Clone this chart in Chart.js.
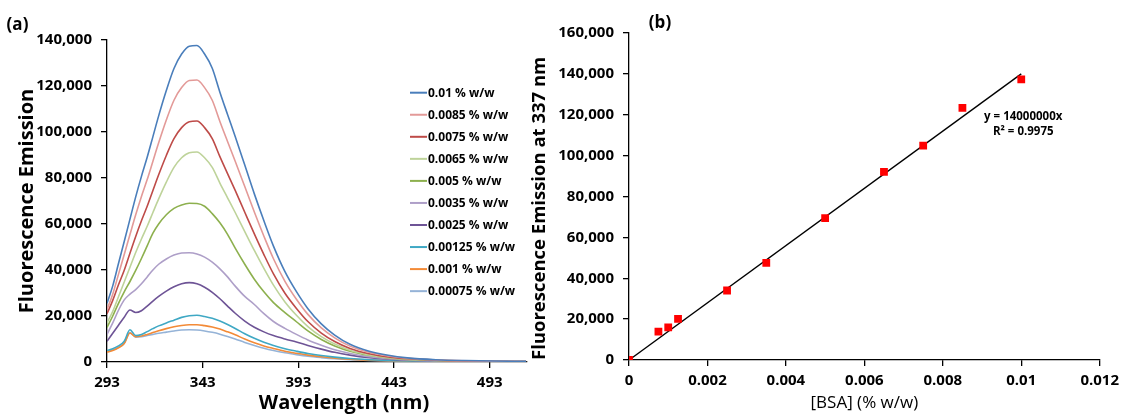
<!DOCTYPE html>
<html>
<head>
<meta charset="utf-8">
<script src="https://cdn.jsdelivr.net/npm/chart.js@4.4.1/dist/chart.umd.min.js"></script>
<style>
  body { margin: 0; background: #fff; }
  #wrap { position: relative; width: 1125px; height: 417px; }
  .box { position: absolute; top: 0; height: 417px; }
  #left { left: 0; width: 540px; }
  #right { left: 520px; width: 605px; }
</style>
</head>
<body>
<div id="wrap">
  <div class="box" id="left"><canvas id="spectra"></canvas></div>
  <div class="box" id="right"><canvas id="calib"></canvas></div>
</div>
<script>
// (a) emission spectra, wavelength in nm
const wavelengths = [293, 296, 299, 302, 305, 308, 311, 314, 317, 320, 324, 328, 332, 336, 340, 344, 348, 352, 356, 360,
  365, 370, 375, 380, 386, 392, 398, 405, 412, 420, 430, 440, 450, 465, 480, 495, 512];
const wlTicks = [293, 343, 393, 443, 493];

const em0100 = [25500, 33100, 42800, 52400, 62100, 71800, 80700, 89000, 98000, 107000, 118000, 127600, 133900, 137300, 137600, 133900, 127700, 117300, 107600, 98000,
  85600, 73100, 61400, 50400, 39300, 30600, 23200, 16600, 11700, 7700, 4700, 2900, 1800, 1000, 620, 410, 280];
const em0085 = [22800, 29500, 38100, 46700, 55400, 64000, 72000, 79300, 87300, 95300, 105200, 113800, 119300, 122400, 122600, 119300, 113800, 104600, 95900, 87300,
  76300, 65200, 54700, 44900, 35100, 27300, 20700, 14800, 10500, 6900, 4200, 2600, 1600, 920, 550, 370, 250];
const em0075 = [21000, 26800, 33600, 39900, 47300, 54600, 61400, 67700, 74600, 81400, 89800, 97100, 101900, 104500, 104800, 101900, 97100, 89300, 81900, 74600,
  65100, 55700, 46700, 38300, 29900, 23300, 17600, 12600, 8900, 5900, 3600, 2200, 1400, 790, 470, 320, 210];
const em0065 = [17000, 22000, 28400, 34800, 41200, 47600, 53500, 59000, 65000, 70900, 78200, 84600, 88800, 91000, 91300, 88800, 84600, 77800, 71400, 65000,
  56700, 48500, 40700, 33400, 26100, 20300, 15400, 11000, 7800, 5100, 3100, 1900, 1200, 690, 410, 270, 180];
const em0050 = [15000, 20000, 25500, 30500, 35000, 39800, 45000, 50500, 56000, 60000, 64000, 66800, 68300, 69000, 68900, 67700, 64500, 60500, 55500, 49500,
  42500, 36000, 30500, 25800, 21500, 17500, 13500, 9800, 7000, 4700, 2900, 1800, 1150, 650, 400, 270, 190];
const em0035 = [12000, 17000, 22500, 27000, 29500, 31500, 34000, 37000, 40000, 42500, 44800, 46500, 47400, 47500, 47000, 45600, 43400, 40500, 37000, 33000,
  28500, 25000, 21000, 17600, 14600, 12000, 9600, 7300, 5300, 3700, 2300, 1400, 900, 520, 320, 230, 160];
const em0025 = [9000, 12500, 16000, 19500, 22600, 21500, 22300, 24300, 26500, 28500, 30800, 32700, 34000, 34500, 34000, 32500, 30300, 27500, 24300, 21200,
  17800, 15100, 13100, 11500, 10000, 8700, 7200, 5600, 4200, 3000, 1900, 1200, 800, 480, 300, 220, 160];
const em00125 = [5000, 5800, 7000, 9000, 14000, 11500, 12000, 13200, 14500, 15700, 17000, 18200, 19400, 20100, 20300, 19800, 19000, 17800, 16300, 14600,
  12300, 10300, 8600, 7200, 5800, 4700, 3700, 2800, 2100, 1500, 1000, 650, 450, 300, 200, 150, 120];
const em0010 = [4300, 5000, 6200, 8000, 12600, 11000, 11300, 12000, 12800, 13600, 14500, 15300, 15900, 16200, 16200, 15800, 15200, 14300, 13100, 11800,
  10000, 8400, 7000, 5900, 4700, 3800, 3000, 2300, 1700, 1200, 800, 520, 360, 240, 160, 120, 90];
const em00075 = [4500, 5200, 6400, 8200, 12800, 10800, 11000, 11500, 12000, 12500, 13000, 13500, 13900, 14000, 13900, 13500, 12900, 12100, 11100, 10000,
  8500, 7200, 6000, 5000, 4000, 3200, 2500, 1900, 1400, 1000, 680, 450, 320, 220, 150, 110, 80];

const seriesLabels = ['0.01 % w/w', '0.0085 % w/w', '0.0075 % w/w', '0.0065 % w/w', '0.005 % w/w',
  '0.0035 % w/w', '0.0025 % w/w', '0.00125 % w/w', '0.001 % w/w', '0.00075 % w/w'];
const seriesValues = [em0100, em0085, em0075, em0065, em0050, em0035, em0025, em00125, em0010, em00075];
const lineColors = ['#4A7EBB', '#E39A98', '#BE4B48', '#BED39A', '#8DB04E', '#AE9FC8', '#6E5496', '#3FA8C4', '#F38A36', '#95B3D7'];

// (b) emission at 337 nm vs BSA concentration
const bsaConc = [0, 0.00075, 0.001, 0.00125, 0.0025, 0.0035, 0.005, 0.0065, 0.0075, 0.0085, 0.01];
const emission337 = [0, 13900, 16000, 20100, 34000, 47500, 69400, 92000, 104900, 123400, 137300];
const fitX = [0, 0.01];
const fitY = [0, 140000];
const bsaTicks = [0, 0.002, 0.004, 0.006, 0.008, 0.01, 0.012];

Chart.defaults.font.family = "'Open Sans', sans-serif";
Chart.defaults.color = '#000';

// free text drawn on top of a chart (panel letters, equation ...)
function notesPlugin(items) {
  return {
    id: 'notes',
    afterDraw(chart) {
      const ctx = chart.ctx;
      ctx.save();
      items.forEach(function (it) {
        let x = it.x, y = it.y;
        if (it.dataX !== undefined) {
          x = chart.scales.x.getPixelForValue(it.dataX);
          y = chart.scales.y.getPixelForValue(it.dataY);
        }
        ctx.font = it.font;
        ctx.fillStyle = '#000';
        ctx.textAlign = it.align || 'center';
        ctx.textBaseline = 'middle';
        ctx.fillText(it.text, x, y);
      });
      ctx.restore();
    }
  };
}

// legend list inside the plot, like the excel one
const insideLegend = {
  id: 'insideLegend',
  afterDraw(chart) {
    const ctx = chart.ctx;
    ctx.save();
    ctx.font = "bold 12px 'Open Sans', sans-serif";
    ctx.textBaseline = 'middle';
    ctx.textAlign = 'left';
    chart.data.datasets.forEach(function (ds, i) {
      const y = 92.7 + i * 22.05;
      ctx.strokeStyle = ds.borderColor;
      ctx.lineWidth = 2;
      ctx.beginPath();
      ctx.moveTo(410, y);
      ctx.lineTo(427, y);
      ctx.stroke();
      ctx.fillStyle = '#000';
      ctx.fillText(ds.label, 428, y + 0.5);
    });
    ctx.restore();
  }
};

const axisGrid = { drawOnChartArea: false, tickLength: 6, color: '#000', lineWidth: 1.3 };
const axisBorder = { color: '#000', width: 1.3 };
const tickFont = { size: 15, weight: 'bold' };

new Chart(document.getElementById('spectra'), {
  type: 'line',
  data: {
    datasets: seriesLabels.map(function (lab, i) {
      return {
        label: lab,
        data: wavelengths.map(function (w, j) { return { x: w, y: seriesValues[i][j] }; }),
        borderColor: lineColors[i],
        borderWidth: 1.6,
        pointRadius: 0,
        cubicInterpolationMode: 'monotone',
        fill: false
      };
    })
  },
  options: {
    responsive: true,
    maintainAspectRatio: false,
    animation: false,
    layout: { padding: { left: 0, right: 13, top: 40, bottom: 0 } },
    plugins: { legend: { display: false }, tooltip: { enabled: false } },
    scales: {
      x: {
        type: 'linear', min: 293, max: 512.5,
        afterBuildTicks: function (s) { s.ticks = wlTicks.map(function (v) { return { value: v }; }); },
        afterFit: function (s) { s.height = 55; },
        grid: axisGrid, border: axisBorder,
        ticks: { font: tickFont, padding: 6, maxRotation: 0, autoSkip: false }
      },
      y: {
        min: 0, max: 140000,
        afterFit: function (s) { s.width = 107; },
        grid: axisGrid, border: axisBorder,
        ticks: { stepSize: 20000, font: tickFont, padding: 9 },
        title: { display: true, text: 'Fluorescence Emission', font: { size: 20, weight: 'bold' }, padding: { top: 15, bottom: 0 } }
      }
    }
  },
  plugins: [insideLegend, notesPlugin([
    { text: '(a)', x: 17.5, y: 25, font: "bold 17px 'Open Sans', sans-serif" },
    { text: 'Wavelength (nm)', x: 344, y: 403, font: "bold 20px 'Open Sans', sans-serif" }
  ])]
});

new Chart(document.getElementById('calib'), {
  type: 'scatter',
  data: {
    datasets: [
      {
        type: 'line',
        label: 'fit',
        data: fitX.map(function (x, i) { return { x: x, y: fitY[i] }; }),
        borderColor: '#000',
        borderWidth: 1.4,
        pointRadius: 0,
        fill: false,
        order: 2
      },
      {
        label: 'Emission at 337 nm',
        data: bsaConc.map(function (c, i) { return { x: c, y: emission337[i] }; }),
        pointStyle: 'rect',
        pointRadius: 5.5,
        backgroundColor: '#FF0000',
        borderWidth: 0,
        order: 1
      }
    ]
  },
  options: {
    responsive: true,
    maintainAspectRatio: false,
    animation: false,
    layout: { padding: { left: 0, right: 21, top: 33, bottom: 0 } },
    plugins: { legend: { display: false }, tooltip: { enabled: false } },
    scales: {
      x: {
        type: 'linear', min: 0, max: 0.012,
        afterBuildTicks: function (s) { s.ticks = bsaTicks.map(function (v) { return { value: v }; }); },
        afterFit: function (s) { s.height = 57; },
        grid: axisGrid, border: axisBorder,
        ticks: {
          font: tickFont, padding: 6, maxRotation: 0, autoSkip: false,
          callback: function (v) { return String(+v.toFixed(3)); }
        },
        title: { display: true, text: '[BSA] (% w/w)', font: { size: 17 }, padding: { top: 0, bottom: 4 } }
      },
      y: {
        min: 0, max: 160000,
        afterFit: function (s) { s.width = 109; },
        grid: axisGrid, border: axisBorder,
        ticks: { stepSize: 20000, font: tickFont, padding: 9 },
        title: {
          display: true, text: 'Fluorescence Emission at 337 nm', align: 'start',
          font: { size: 18.5, weight: 'bold' }, padding: { top: 9, bottom: 0 }
        }
      }
    }
  },
  plugins: [notesPlugin([
    { text: '(b)', x: 140, y: 23.5, font: "bold 17px 'Open Sans', sans-serif" },
    { text: 'y = 14000000x', dataX: 0.01005, dataY: 119000, font: "bold 11.5px 'Open Sans', sans-serif" },
    { text: 'R\u00B2 = 0.9975', dataX: 0.01005, dataY: 111700, font: "bold 11.5px 'Open Sans', sans-serif" }
  ])]
});
</script>
</body>
</html>
